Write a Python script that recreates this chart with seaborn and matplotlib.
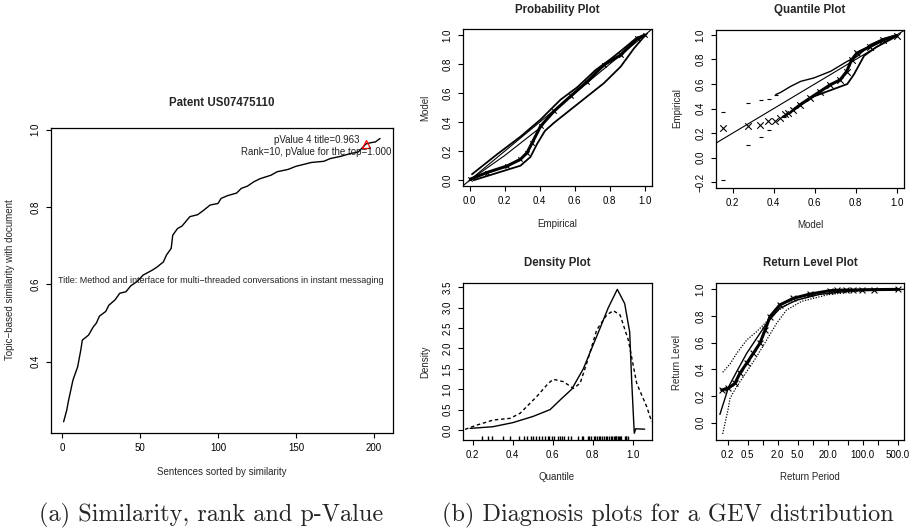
import numpy as np
import matplotlib
matplotlib.use("Agg")
import matplotlib.pyplot as plt
from matplotlib.ticker import NullLocator
import seaborn as sns

# ---- data ----
# (a) similarity of sentences sorted by similarity
sent_idx = [1, 3, 4, 7, 10, 12, 13, 17, 20, 22, 24, 28, 30, 34, 37, 41, 44, 48, 52, 58,
            61, 65, 67, 70, 71, 74, 77, 82, 87, 91, 95, 100, 102, 106, 112, 115, 119, 123, 127, 134,
            138, 145, 150, 155, 160, 168, 172, 179, 185, 190, 195, 198, 201, 204]
similarity = [0.245, 0.275, 0.297, 0.353, 0.387, 0.43, 0.456, 0.469, 0.49, 0.5,
              0.518, 0.53, 0.546, 0.56, 0.577, 0.581, 0.596, 0.607, 0.624, 0.637,
              0.645, 0.658, 0.676, 0.693, 0.727, 0.744, 0.751, 0.775, 0.78, 0.792,
              0.805, 0.809, 0.822, 0.829, 0.836, 0.848, 0.854, 0.865, 0.873, 0.882,
              0.891, 0.897, 0.905, 0.91, 0.915, 0.918, 0.925, 0.931, 0.938, 0.942,
              0.963, 0.966, 0.968, 0.977]
title_rank = 195
title_value = 0.963

# (b) probability plot
prob_emp = [0.004, 0.099, 0.214, 0.29, 0.328, 0.357, 0.405, 0.481, 0.576, 0.672, 0.767, 0.863, 0.958, 1.0]
prob_model = [0.007, 0.053, 0.098, 0.144, 0.19, 0.258, 0.372, 0.475, 0.578, 0.68, 0.795, 0.863, 0.977, 1.0]
prob_up_x = [0.013, 0.156, 0.29, 0.405, 0.519, 0.614, 0.72, 0.8, 0.863, 0.958]
prob_up_y = [0.041, 0.178, 0.30, 0.418, 0.555, 0.64, 0.76, 0.83, 0.89, 0.985]
prob_lo_x = [0.023, 0.156, 0.29, 0.347, 0.385, 0.43, 0.481, 0.576, 0.672, 0.767, 0.863, 0.939, 0.996]
prob_lo_y = [0.0, 0.05, 0.1, 0.16, 0.25, 0.34, 0.395, 0.486, 0.578, 0.669, 0.783, 0.909, 0.989]
prob_mid_x = [0.0, 0.2, 0.404]
prob_mid_y = [0.0, 0.17, 0.363]

# quantile plot
q_model = [0.154, 0.273, 0.333, 0.374, 0.406, 0.431, 0.455, 0.472, 0.496, 0.528,
           0.577, 0.626, 0.675, 0.724, 0.756, 0.78, 0.805, 0.87, 0.935, 1.0]
q_emp = [0.245, 0.259, 0.267, 0.302, 0.302, 0.322, 0.354, 0.362, 0.389, 0.43,
         0.485, 0.539, 0.593, 0.634, 0.702, 0.796, 0.851, 0.905, 0.959, 0.995]
q_up_x = [0.154, 0.273, 0.337, 0.377, 0.41, 0.435, 0.483, 0.532, 0.597, 0.678, 0.759, 0.808, 0.87, 0.935, 1.0]
q_up_y = [0.373, 0.446, 0.473, 0.481, 0.514, 0.533, 0.581, 0.622, 0.65, 0.704, 0.785, 0.826, 0.92, 0.97, 1.0]
q_lo_x = [0.154, 0.273, 0.337, 0.377, 0.45, 0.52, 0.597, 0.678, 0.759, 0.792, 0.841, 0.9, 1.0]
q_lo_y = [-0.184, 0.107, 0.166, 0.229, 0.33, 0.42, 0.5, 0.55, 0.6, 0.68, 0.83, 0.9, 0.99]

# density plot
dens_fit_x = [0.187, 0.3, 0.4, 0.5, 0.587, 0.64, 0.695, 0.753, 0.795, 0.837, 0.878, 0.923,
              0.96, 0.985, 0.995, 1.005, 1.008, 1.015, 1.06]
dens_fit_y = [0.04, 0.08, 0.18, 0.33, 0.5, 0.75, 1.0, 1.5, 2.0, 2.5, 3.0, 3.45,
              3.1, 2.4, 1.2, 0.2, -0.08, 0.03, 0.02]
dens_kde_x = [0.162, 0.22, 0.303, 0.387, 0.437, 0.52, 0.578, 0.603, 0.653, 0.703,
              0.737, 0.77, 0.82, 0.87, 0.903, 0.937, 0.978, 1.02, 1.07, 1.095]
dens_kde_y = [0.016, 0.12, 0.245, 0.286, 0.41, 0.82, 1.145, 1.243, 1.186, 1.022,
              1.145, 1.635, 2.453, 2.821, 2.927, 2.821, 2.208, 1.145, 0.572, 0.2]

# return level plot
rl_period = [0.152, 0.206, 0.28, 0.35, 0.48, 0.65, 0.88, 1.12, 1.4, 2.2, 4.1, 8.9,
             22, 30, 47, 65, 95, 166, 500]
rl_level = [0.245, 0.258, 0.295, 0.37, 0.445, 0.52, 0.595, 0.695, 0.795, 0.883, 0.933, 0.965,
            0.99, 0.993, 0.995, 0.995, 0.997, 0.998, 1.0]
rl_fit_x = [0.14, 0.21, 0.303, 0.48, 0.76, 1.2, 2.2, 4.8, 14, 65, 650]
rl_fit_y = [0.062, 0.27, 0.383, 0.52, 0.633, 0.745, 0.858, 0.92, 0.963, 0.99, 1.0]
rl_up_x = [0.159, 0.223, 0.303, 0.48, 0.76, 1.2, 1.9, 3.5, 10, 50, 500]
rl_up_y = [0.378, 0.44, 0.52, 0.62, 0.683, 0.758, 0.833, 0.9, 0.955, 0.99, 1.0]
rl_lo_x = [0.159, 0.206, 0.223, 0.303, 0.48, 0.76, 1.2, 1.9, 3.0, 6, 20, 100, 500]
rl_lo_y = [-0.085, 0.108, 0.183, 0.27, 0.383, 0.495, 0.62, 0.745, 0.845, 0.91, 0.96, 0.99, 1.0]
rl_ticks = [0.2, 0.5, 1, 2, 5, 10, 20, 50, 100, 200, 500]
rl_ticklabels = ["0.2", "0.5", "", "2.0", "5.0", "", "20.0", "", "100.0", "", "500.0"]

# ---- style ----
sns.set_style("ticks")
plt.rcParams['font.family'] = ['Liberation Sans', 'DejaVu Sans']

W, H = 917, 531
fig = plt.figure(figsize=(W / 100, H / 100), dpi=100)


def box(l, t, r, b):
    return fig.add_axes([l / W, 1 - b / H, (r - l) / W, (b - t) / H])


def ftext(x, y, s, **kw):
    fig.text(x / W, 1 - y / H, s, ha='center', va='center', **kw)


def r_style(ax):
    for sp in ax.spines.values():
        sp.set_linewidth(0.9)
        sp.set_color('black')
    ax.tick_params(direction='out', length=3.5, width=0.8, labelsize=7, pad=4, colors='black')
    ax.tick_params(axis='y', labelrotation=90)
    for lbl in ax.get_yticklabels():
        lbl.set_va('center')


line_kw = dict(color='black', estimator=None, sort=False, legend=False)

# ---- (a) similarity ----
ax = box(51, 128, 393, 433)
sns.lineplot(x=sent_idx, y=similarity, ax=ax, lw=1.0, **line_kw)
ax.plot([title_rank], [title_value], marker='^', mfc='none', mec='red', ms=6, mew=0.9, ls='none')
ax.text(191, 0.972, "pValue 4 title=0.963", ha='right', va='center', fontsize=7, color='#222222')
ax.text(163, 0.942, "Rank=10, pValue for the top=1.000", ha='center', va='center', fontsize=7, color='#222222')
ax.text(102, 0.611, "Title: Method and interface for multi\u2212threaded conversations in instant messaging",
        ha='center', va='center', fontsize=6.5, color='#222222')
ax.set_xlim(-7.1, 212.3)
ax.set_ylim(0.216, 1.004)
ax.set_xticks([0, 50, 100, 150, 200])
ax.set_yticks([0.4, 0.6, 0.8, 1.0])
ax.set_yticklabels(["0.4", "0.6", "0.8", "1.0"])
ax.set_xlabel("")
ax.set_ylabel("")
r_style(ax)
ftext(222, 103, "Patent US07475110", fontsize=8.3, fontweight='bold')
ftext(222, 472, "Sentences sorted by similarity", fontsize=7)
ftext(10, 280, "Topic\u2212based similarity with document", fontsize=7, rotation=90)

ticks01 = [0.0, 0.2, 0.4, 0.6, 0.8, 1.0]
labs01 = ["0.0", "0.2", "0.4", "0.6", "0.8", "1.0"]

# ---- probability plot ----
ax = box(462.7, 29.3, 651.7, 186)
ax.plot([-0.1, 1.1], [-0.1, 1.1], color='black', lw=0.8)
sns.lineplot(x=prob_mid_x, y=prob_mid_y, ax=ax, lw=0.8, **line_kw)
sns.lineplot(x=prob_up_x, y=prob_up_y, ax=ax, lw=1.3, **line_kw)
sns.lineplot(x=prob_lo_x, y=prob_lo_y, ax=ax, lw=1.3, **line_kw)
sns.lineplot(x=prob_emp, y=prob_model, ax=ax, lw=2.2, **line_kw)
sns.scatterplot(x=prob_emp, y=prob_model, ax=ax, marker='x', color='black', s=10, linewidth=0.8)
ax.set_xlim(-0.04, 1.04)
ax.set_ylim(-0.04, 1.04)
ax.set_xticks(ticks01)
ax.set_xticklabels(labs01)
ax.set_yticks(ticks01)
ax.set_yticklabels(labs01)
ax.set_xlabel("")
ax.set_ylabel("")
r_style(ax)
ftext(557, 10, "Probability Plot", fontsize=8.3, fontweight='bold')
ftext(557, 224, "Empirical", fontsize=7)
ftext(425, 108, "Model", fontsize=7, rotation=90)

# ---- quantile plot ----
ax = box(716, 30, 904.3, 187.7)
ax.plot([-0.5, 1.5], [-0.5, 1.5], color='black', lw=0.8)
sns.lineplot(x=q_up_x[4:], y=q_up_y[4:], ax=ax, lw=1.0, **line_kw)
sns.scatterplot(x=q_up_x[:5], y=q_up_y[:5], ax=ax, marker='_', color='black', s=12, linewidth=0.8)
sns.lineplot(x=q_lo_x[4:], y=q_lo_y[4:], ax=ax, lw=1.3, **line_kw)
sns.scatterplot(x=q_lo_x[:5], y=q_lo_y[:5], ax=ax, marker='_', color='black', s=12, linewidth=0.8)
sns.lineplot(x=q_model[8:], y=q_emp[8:], ax=ax, lw=2.2, **line_kw)
sns.scatterplot(x=q_model, y=q_emp, ax=ax, marker='x', color='black', s=22, linewidth=0.8)
ax.set_xlim(0.119, 1.037)
ax.set_ylim(-0.244, 1.04)
ax.set_xticks([0.2, 0.4, 0.6, 0.8, 1.0])
ax.set_xticklabels(["0.2", "0.4", "0.6", "0.8", "1.0"])
ax.set_yticks([-0.2, 0.0, 0.2, 0.4, 0.6, 0.8, 1.0])
ax.set_yticklabels(["\u22120.2", "0.0", "0.2", "0.4", "0.6", "0.8", "1.0"])
ax.set_xlabel("")
ax.set_ylabel("")
r_style(ax)
ftext(810, 10, "Quantile Plot", fontsize=8.3, fontweight='bold')
ftext(810, 225, "Model", fontsize=7)
ftext(677, 108, "Empirical", fontsize=7, rotation=90)

# ---- density plot ----
ax = box(462.7, 283.3, 651.7, 440)
sns.lineplot(x=dens_fit_x, y=dens_fit_y, ax=ax, lw=1.0, **line_kw)
sns.lineplot(x=dens_kde_x, y=dens_kde_y, ax=ax, lw=1.0, linestyle=(0, (2.5, 2)), **line_kw)
sns.rugplot(x=similarity, ax=ax, height=0.028, color='black', lw=0.7)
ax.set_xlim(0.15, 1.095)
ax.set_ylim(-0.245, 3.598)
ax.set_xticks([0.2, 0.4, 0.6, 0.8, 1.0])
ax.set_xticklabels(["0.2", "0.4", "0.6", "0.8", "1.0"])
ax.set_yticks([0.0, 0.5, 1.0, 1.5, 2.0, 2.5, 3.0, 3.5])
ax.set_yticklabels(["0.0", "0.5", "1.0", "1.5", "2.0", "2.5", "3.0", "3.5"])
ax.set_xlabel("")
ax.set_ylabel("")
r_style(ax)
ftext(557, 263, "Density Plot", fontsize=8.3, fontweight='bold')
ftext(557, 477, "Quantile", fontsize=7)
ftext(425, 362, "Density", fontsize=7, rotation=90)

# ---- return level plot ----
ax = box(716, 282.7, 904.3, 440)
ax.set_xscale('log')
sns.lineplot(x=rl_up_x, y=rl_up_y, ax=ax, lw=0.9, linestyle=(0, (1, 1.2)), **line_kw)
sns.lineplot(x=rl_lo_x, y=rl_lo_y, ax=ax, lw=0.9, linestyle=(0, (1, 1.2)), **line_kw)
sns.lineplot(x=rl_period, y=rl_level, ax=ax, lw=2.2, **line_kw)
sns.scatterplot(x=rl_period, y=rl_level, ax=ax, marker='x', color='black', s=18, linewidth=0.8)
sns.lineplot(x=rl_fit_x, y=rl_fit_y, ax=ax, lw=1.0, **line_kw)
ax.set_xlim(0.117, 677)
ax.set_ylim(-0.13, 1.05)
ax.xaxis.set_minor_locator(NullLocator())
ax.set_xticks(rl_ticks)
ax.set_xticklabels(rl_ticklabels)
ax.set_yticks(ticks01)
ax.set_yticklabels(labs01)
ax.set_xlabel("")
ax.set_ylabel("")
r_style(ax)
ftext(810, 263, "Return Level Plot", fontsize=8.3, fontweight='bold')
ftext(810, 477, "Return Period", fontsize=7)
ftext(677, 362, "Return Level", fontsize=7, rotation=90)

# ---- captions ----
ftext(211, 515, "(a) Similarity, rank and p-Value", fontsize=17.5, family='cmr10')
ftext(668, 515, "(b) Diagnosis plots for a GEV distribution", fontsize=17.5, family='cmr10')

fig.savefig("out.png", dpi=100, facecolor='white')
